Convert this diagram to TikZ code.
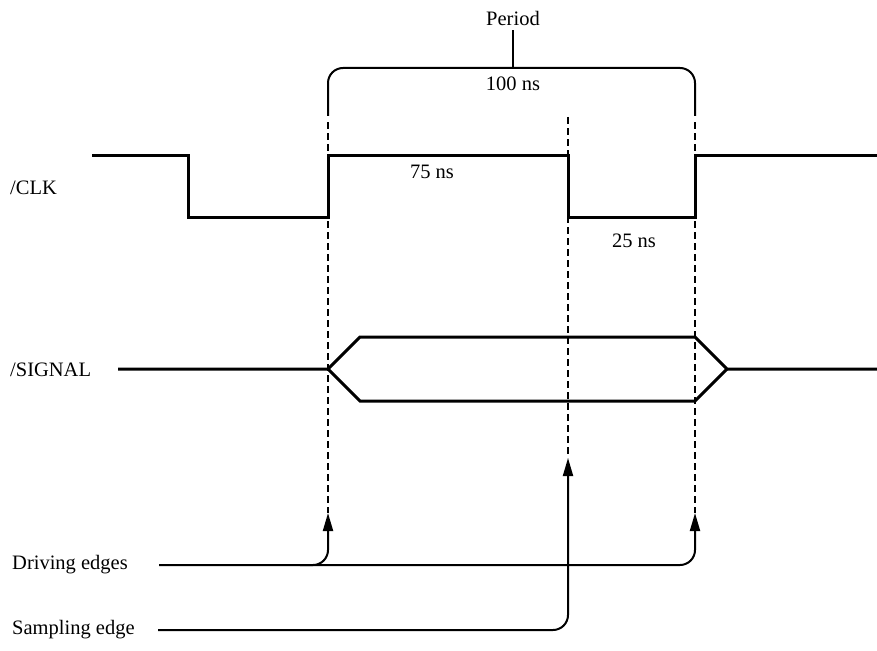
\documentclass[tikz,border=0pt]{standalone}
\usepackage{fontspec}
\setmainfont{Liberation Serif}
\usetikzlibrary{arrows.meta}
\begin{document}
\begin{tikzpicture}[x=1pt,y=-1pt,
  wave/.style={line width=3pt,line join=miter},
  guide/.style={line width=2pt,dash pattern=on 7pt off 4pt},
  conn/.style={line width=2pt,rounded corners=15pt},
  tip/.style={-{Triangle[length=18pt,width=10pt]}},
  lbl/.style={font=\fontsize{20.5}{24}\selectfont,inner sep=0pt},
  ]
\useasboundingbox (0,0) rectangle (877,650);
% labels
\node[lbl,anchor=west] (clk) at (10,188) {/CLK};
\node[lbl,anchor=west] (sig) at (10,370) {/SIGNAL};
\node[lbl,anchor=west] (drv) at (12,565) {Driving edges};
\node[lbl,anchor=west] (smp) at (12,630) {Sampling edge};
\node[lbl] (per) at (513,18) {Period};
\node[lbl] (hundred) at (513,84) {100 ns};
\node[lbl] (sf) at (432,172) {75 ns};
\node[lbl] (tf) at (634,241) {25 ns};
% clock
\draw[wave] (92,155) -- (188,155) -- (188,217) -- (328,217) -- (328,155)
  -- (568,155) -- (568,217) -- (695,217) -- (695,155) -- (877,155);
% signal
\draw[wave] (118,369) -- (328,369) -- (360,337) -- (695,337) -- (727,369) -- (877,369);
\draw[wave] (328,369) -- (360,401) -- (695,401) -- (727,369);
% period bracket
\coordinate (pt) at (513,68);
\draw[line width=2pt] (per.south) ++(0,5) -- (pt);
\draw[conn] (328,116) -- (328,68) -- (695,68) -- (695,116);
% dashed guides
\coordinate (a1) at (328,513);
\coordinate (a2) at (568,458);
\coordinate (a3) at (695,513);
\draw[guide] (328,122) -- (a1);
\draw[guide] (568,117) -- (a2);
\draw[guide] (695,122) -- (a3);
% driving edges
\coordinate (d0) at (159,565);
\coordinate (dbr) at (300,565);
\draw[conn,tip] (d0) -| (a3);
\draw[conn,tip] (dbr) -| (a1);
% sampling edge
\coordinate (s0) at (158,630);
\draw[conn,tip] (s0) -| (a2);
\end{tikzpicture}
\end{document}
